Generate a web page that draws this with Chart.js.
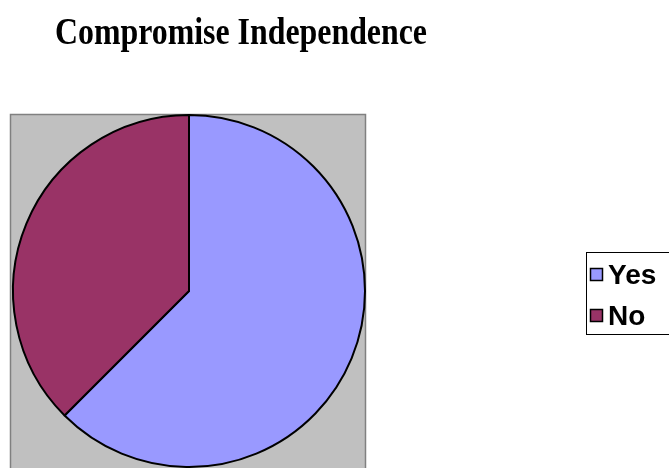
<!DOCTYPE html>
<html>
<head>
<meta charset="utf-8">
<script src="https://cdn.jsdelivr.net/npm/chart.js@4.4.1/dist/chart.umd.min.js"></script>
<style>
  html, body { margin: 0; padding: 0; background: #fff; overflow: hidden; }
  #wrap { width: 669px; height: 468px; position: relative; }
</style>
</head>
<body>
<div id="wrap"><canvas id="pieChart"></canvas></div>
<script>
var chartTitle = 'Compromise Independence';
var answers = ['Yes', 'No'];
var responses = [5, 3];
var sliceColors = ['#9999FF', '#993366'];

// grey plot box behind the pie, cut off by the bottom of the canvas
var plotBackground = {
    id: 'plotBackground',
    beforeDraw: function (chart) {
        var ctx = chart.ctx, a = chart.chartArea;
        ctx.save();
        ctx.fillStyle = '#C0C0C0';
        ctx.fillRect(a.left - 1.5, a.top + 0.5, a.width + 1, chart.height);
        ctx.strokeStyle = '#808080';
        ctx.lineWidth = 1.5;
        ctx.strokeRect(a.left - 1.5, a.top + 0.5, a.width + 1, chart.height);
        ctx.restore();
    }
};

// tall, narrow bold serif heading
var condensedTitle = {
    id: 'condensedTitle',
    afterDraw: function (chart) {
        var ctx = chart.ctx;
        ctx.save();
        ctx.font = 'bold 38px "Liberation Serif", "Times New Roman", serif';
        ctx.fillStyle = '#000';
        ctx.textBaseline = 'alphabetic';
        var w = ctx.measureText(chartTitle).width;
        ctx.translate(55, 44);
        ctx.scale(372 / w, 1);
        ctx.fillText(chartTitle, 0, 0);
        ctx.restore();
    }
};

// boxed legend on the right, running off the edge
var boxedLegend = {
    id: 'boxedLegend',
    afterDraw: function (chart) {
        var ctx = chart.ctx;
        ctx.save();
        ctx.strokeStyle = '#000';
        ctx.lineWidth = 1;
        ctx.strokeRect(586.5, 252.5, 200, 82);
        ctx.font = 'bold 28px "Liberation Sans", Arial, sans-serif';
        ctx.textBaseline = 'alphabetic';
        answers.forEach(function (label, i) {
            var top = 268 + i * 41;
            ctx.fillStyle = sliceColors[i];
            ctx.fillRect(590.5, top + 0.5, 12, 12);
            ctx.strokeStyle = '#000';
            ctx.lineWidth = 1.5;
            ctx.strokeRect(590.5, top + 0.5, 12, 12);
            ctx.fillStyle = '#000';
            ctx.fillText(label, 608, top + 15.5);
        });
        ctx.restore();
    }
};

new Chart('pieChart', {
    type: 'pie',
    data: {
        labels: answers,
        datasets: [{
            data: responses,
            backgroundColor: sliceColors,
            borderColor: '#000',
            borderWidth: 2
        }]
    },
    options: {
        responsive: true,
        maintainAspectRatio: false,
        animation: false,
        layout: {
            padding: { left: 12, top: 114, right: 303, bottom: 0 }
        },
        plugins: {
            legend: { display: false },
            title: { display: false },
            tooltip: { enabled: false }
        }
    },
    plugins: [plotBackground, condensedTitle, boxedLegend]
});
</script>
</body>
</html>
